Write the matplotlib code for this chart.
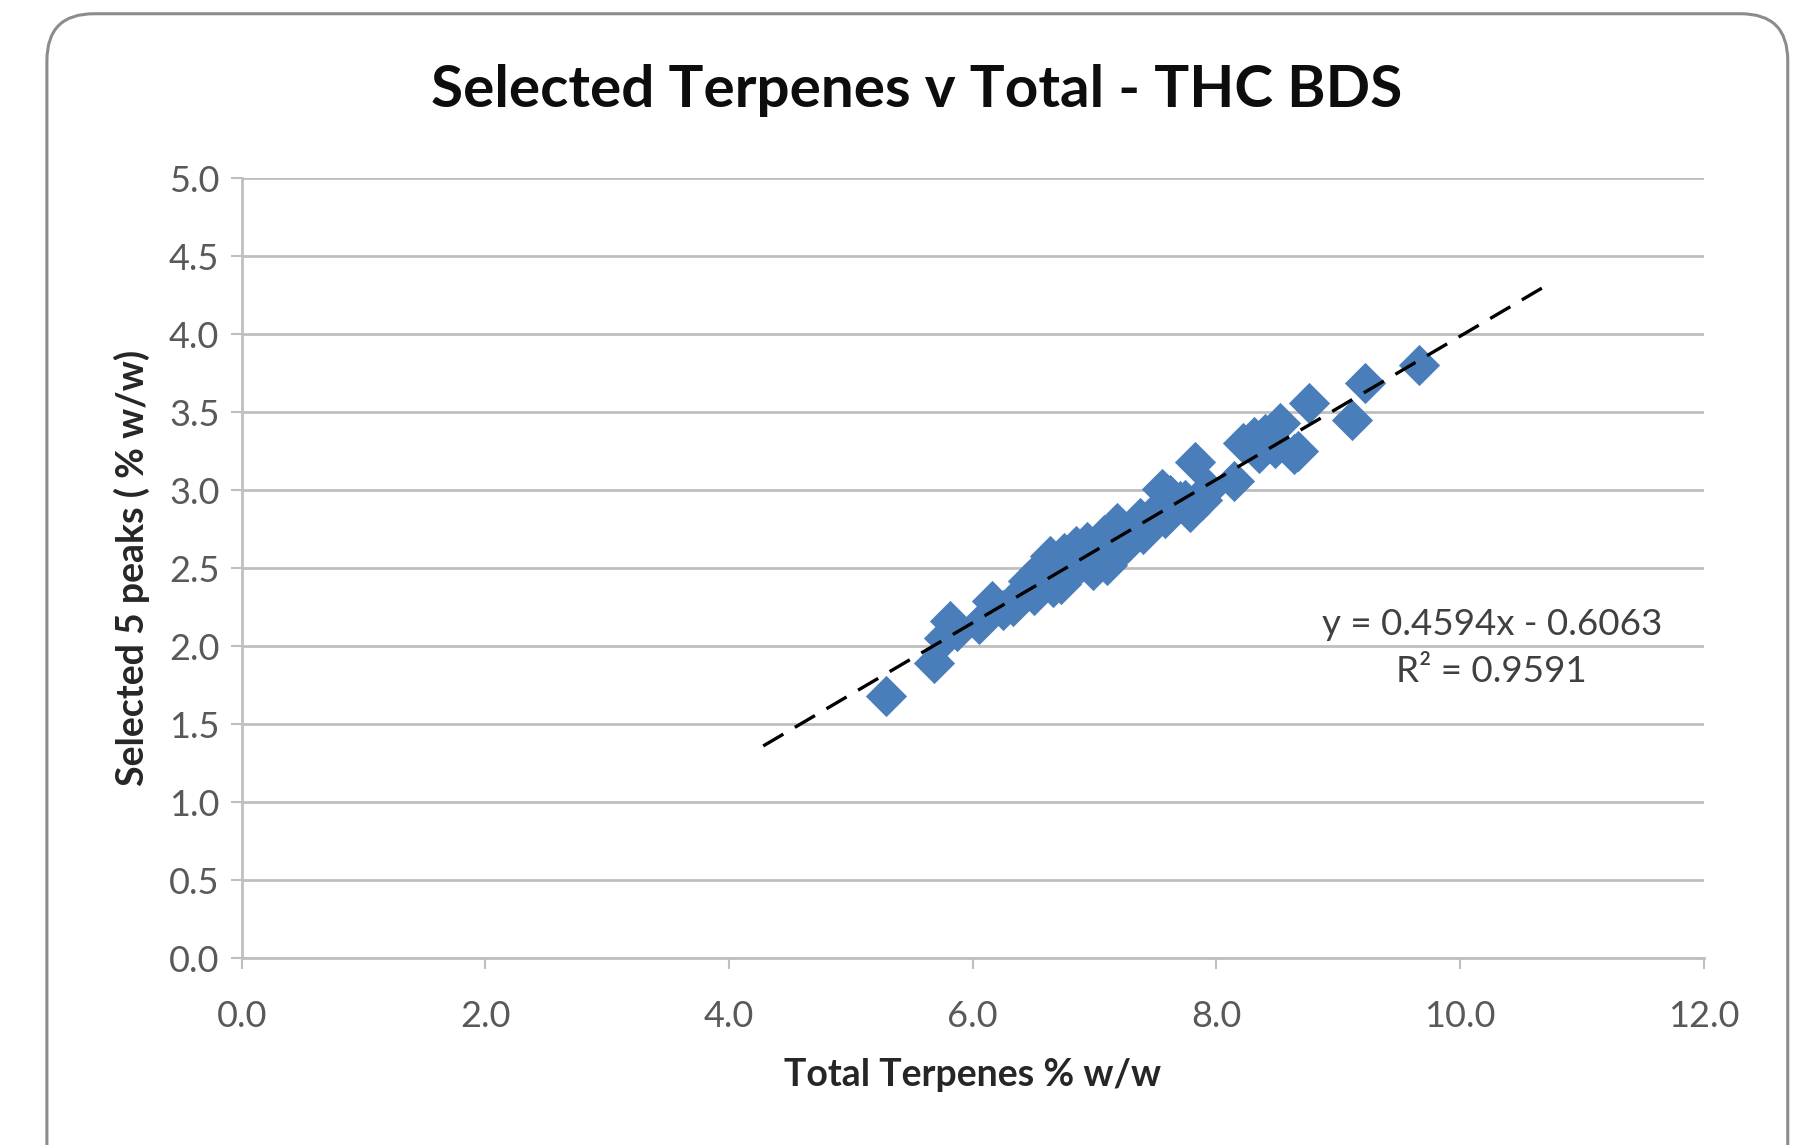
import numpy as np
import matplotlib.pyplot as plt
from matplotlib.patches import FancyBboxPatch

# Total terpenes (% w/w) vs. sum of the five selected peaks (% w/w)
total_terpenes = [5.29, 5.68, 5.81, 5.87, 6.05, 6.16, 6.33, 6.37, 6.45, 6.54,
                  6.61, 6.66, 6.70, 6.75, 6.80, 6.85, 6.89, 6.94, 6.99, 7.03,
                  7.08, 7.13, 7.18, 7.27, 7.32, 7.37, 7.46, 7.55, 7.58, 7.65,
                  7.70, 7.74, 7.82, 7.88, 7.93, 8.14, 8.22, 8.31, 8.40, 8.48,
                  8.52, 8.64, 8.67, 8.76, 9.11, 9.22, 9.66, 6.42, 6.58, 7.22,
                  6.50, 6.63, 6.72, 6.78, 6.90, 7.00, 7.10, 7.15, 7.25, 7.40,
                  7.52, 7.62, 7.78, 8.35, 8.45, 6.25, 5.76]
selected_peaks = [1.68, 1.89, 2.16, 2.10, 2.14, 2.29, 2.26, 2.31, 2.42, 2.49,
                  2.53, 2.38, 2.46, 2.60, 2.49, 2.64, 2.53, 2.67, 2.49, 2.60,
                  2.71, 2.67, 2.79, 2.67, 2.75, 2.82, 2.79, 3.01, 2.82, 2.90,
                  2.93, 2.94, 3.18, 2.94, 3.01, 3.06, 3.30, 3.34, 3.36, 3.27,
                  3.43, 3.23, 3.25, 3.56, 3.45, 3.69, 3.80, 2.36, 2.45, 2.62,
                  2.33, 2.58, 2.40, 2.55, 2.62, 2.56, 2.52, 2.76, 2.72, 2.72,
                  2.88, 2.97, 2.86, 3.24, 3.32, 2.23, 2.05]

slope = 0.4594
intercept = -0.6063
r_squared = 0.9591
trend_range = [4.28, 10.67]

x_ticks = [0, 2, 4, 6, 8, 10, 12]
y_ticks = [0.0, 0.5, 1.0, 1.5, 2.0, 2.5, 3.0, 3.5, 4.0, 4.5, 5.0]

plt.rcParams['font.family'] = ['Lato', 'DejaVu Sans']
label_color = '#595959'
grid_color = '#BFBFBF'

fig = plt.figure(figsize=(18.04, 11.45), dpi=100)
ax = fig.add_axes([0.134, 0.1633, 0.8105, 0.681])

# rounded chart-area border
border = FancyBboxPatch((0.026, -0.05), 0.965, 1.038,
                        boxstyle='round,pad=0,rounding_size=0.026',
                        transform=fig.transFigure, facecolor='white',
                        edgecolor='#8C8C8C', linewidth=2.2, zorder=-10,
                        mutation_aspect=1804 / 1145)
fig.patches.append(border)

ax.scatter(total_terpenes, selected_peaks, marker='D', s=21 ** 2,
           color='#4A7EBB', linewidths=0, zorder=3)

tx = np.array(trend_range)
ax.plot(tx, slope * tx + intercept, color='black', linewidth=2.4,
        linestyle=(0, (7, 4)), zorder=4)

ax.text(10.26, 2.14, f'y = {slope}x - {abs(intercept)}', ha='center',
        va='center', fontsize=26.5, color='#404040')
ax.text(10.26, 1.84, f'R² = {r_squared}', ha='center', va='center',
        fontsize=26.5, color='#404040')

ax.set_xlim(0, 12)
ax.set_ylim(0, 5)
ax.set_xticks(x_ticks)
ax.set_xticklabels([f'{v:.1f}' for v in x_ticks])
ax.set_yticks(y_ticks)
ax.set_yticklabels([f'{v:.1f}' for v in y_ticks])
ax.tick_params(axis='both', labelsize=26, colors=grid_color,
               labelcolor=label_color, length=8, width=1.5, direction='out')
ax.tick_params(axis='x', pad=22)
ax.tick_params(axis='y', pad=8)

ax.grid(axis='y', color=grid_color, linewidth=2)
ax.set_axisbelow(True)
for side in ['top', 'right']:
    ax.spines[side].set_visible(False)
for side in ['left', 'bottom']:
    ax.spines[side].set_color(grid_color)
    ax.spines[side].set_linewidth(2)

ax.set_xlabel('Total Terpenes % w/w', fontsize=27, fontweight='bold',
              color='#262626', labelpad=18)
ax.set_ylabel('Selected 5 peaks ( % w/w)', fontsize=27, fontweight='bold',
              color='#262626', labelpad=14)

fig.text(0.508, 0.921, 'Selected Terpenes v Total - THC BDS', ha='center',
         va='center', fontsize=42, fontweight='bold', color='#0D0D0D')

fig.savefig('out.png', dpi=100, facecolor='white')
